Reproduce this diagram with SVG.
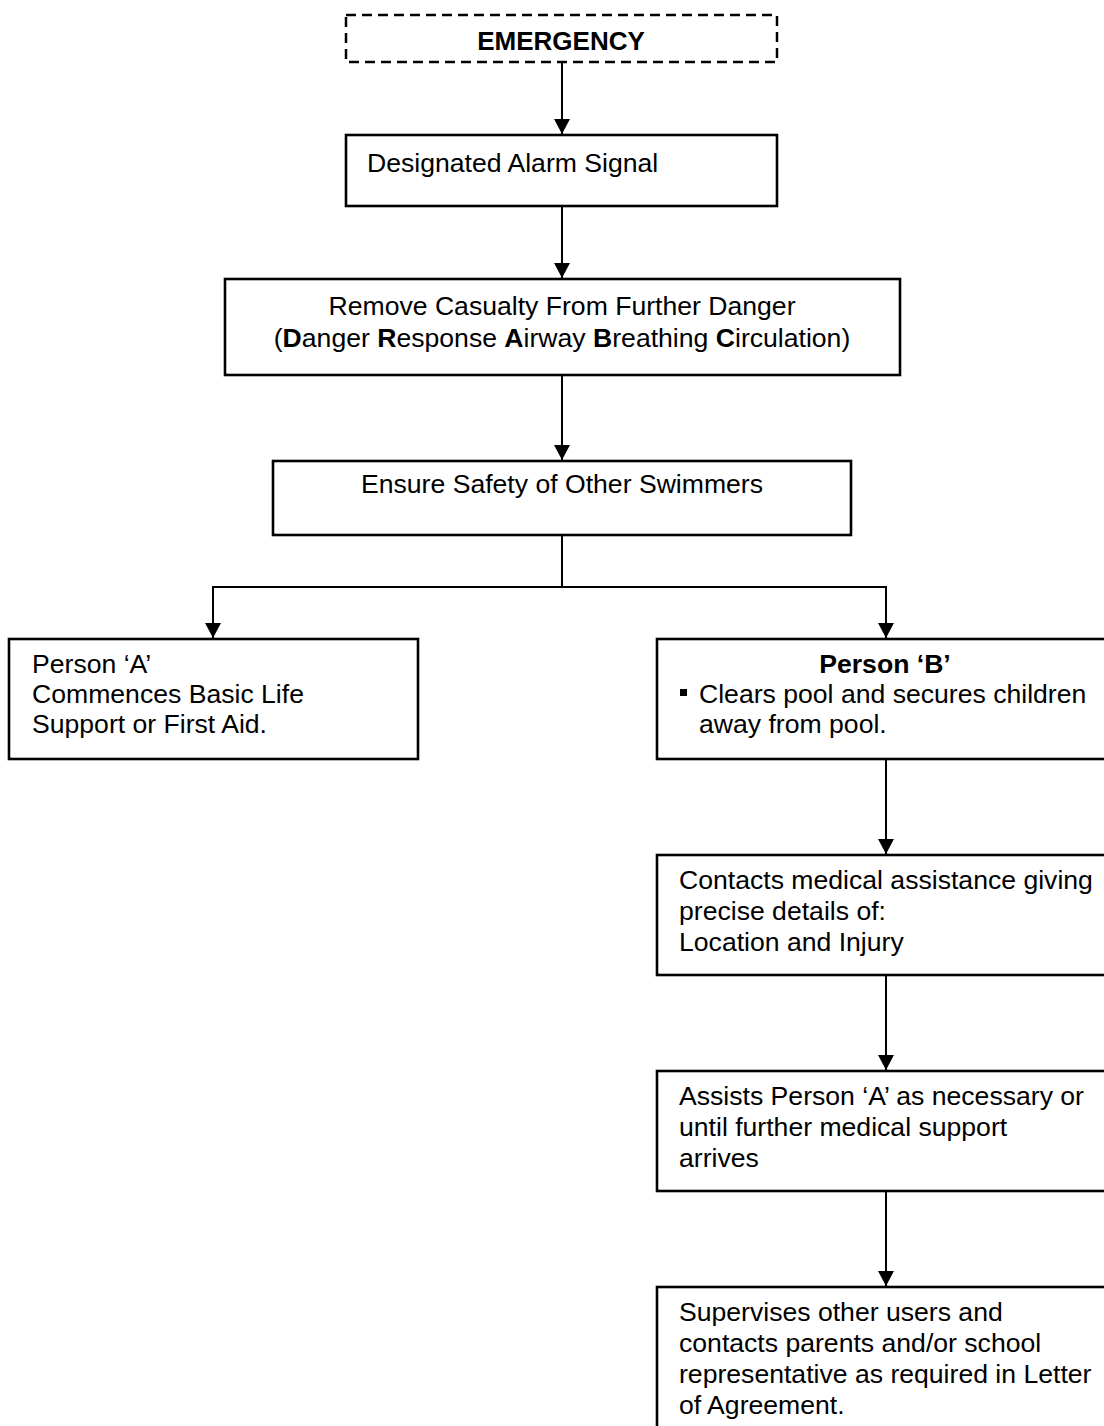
<svg xmlns="http://www.w3.org/2000/svg" width="1104" height="1426" viewBox="0 0 1104 1426">
<style>
.box{fill:#fff;stroke:#000;stroke-width:2.6}
.dash{fill:#fff;stroke:#000;stroke-width:2.5;stroke-dasharray:10 6}
.t{font-family:"Liberation Sans",Arial,sans-serif;font-size:26.6px;fill:#000}
.b{font-weight:bold}
.c{text-anchor:middle}
.ln{fill:none;stroke:#000;stroke-width:2}
</style>
<defs>
<marker id="ah" viewBox="0 0 15 16" refX="15" refY="8" markerWidth="15" markerHeight="16" markerUnits="userSpaceOnUse" orient="auto">
<path d="M0,0 L15,8 L0,16 z" fill="#000"/>
</marker>
</defs>
<rect width="1104" height="1426" fill="#fff"/>
<g id="connectors">
<line class="ln" x1="562" y1="62" x2="562" y2="134" marker-end="url(#ah)"/>
<line class="ln" x1="562" y1="206" x2="562" y2="278" marker-end="url(#ah)"/>
<line class="ln" x1="562" y1="375" x2="562" y2="460" marker-end="url(#ah)"/>
<polyline class="ln" points="562,535 562,587 213,587 213,638" marker-end="url(#ah)"/>
<polyline class="ln" points="562,587 886,587 886,638" marker-end="url(#ah)"/>
<line class="ln" x1="886" y1="759" x2="886" y2="854" marker-end="url(#ah)"/>
<line class="ln" x1="886" y1="975" x2="886" y2="1070" marker-end="url(#ah)"/>
<line class="ln" x1="886" y1="1191" x2="886" y2="1286" marker-end="url(#ah)"/>
</g>
<g id="emergency">
<rect class="dash" x="346" y="15" width="431" height="47"/>
<text class="t b c" x="561" y="50" style="font-size:26px">EMERGENCY</text>
</g>
<g id="alarm">
<rect class="box" x="346" y="135" width="431" height="71"/>
<text class="t" x="367" y="172">Designated Alarm Signal</text>
</g>
<g id="remove">
<rect class="box" x="225" y="279" width="675" height="96"/>
<text class="t c" x="562" y="315">Remove Casualty From Further Danger</text>
<text class="t c" x="562" y="347">(<tspan class="b">D</tspan>anger <tspan class="b">R</tspan>esponse <tspan class="b">A</tspan>irway <tspan class="b">B</tspan>reathing <tspan class="b">C</tspan>irculation)</text>
</g>
<g id="ensure">
<rect class="box" x="273" y="461" width="578" height="74"/>
<text class="t c" x="562" y="493">Ensure Safety of Other Swimmers</text>
</g>
<g id="personA">
<rect class="box" x="9" y="639" width="409" height="120"/>
<text class="t" x="32" y="673">Person ‘A’</text>
<text class="t" x="32" y="703">Commences Basic Life</text>
<text class="t" x="32" y="733">Support or First Aid.</text>
</g>
<g id="personB">
<rect class="box" x="657" y="639" width="460" height="120"/>
<text class="t b c" x="885" y="673">Person ‘B’</text>
<rect x="680" y="689" width="7" height="7" fill="#000"/>
<text class="t" x="699" y="703">Clears pool and secures children</text>
<text class="t" x="699" y="733">away from pool.</text>
</g>
<g id="contacts">
<rect class="box" x="657" y="855" width="460" height="120"/>
<text class="t" x="679" y="889">Contacts medical assistance giving</text>
<text class="t" x="679" y="920">precise details of:</text>
<text class="t" x="679" y="951">Location and Injury</text>
</g>
<g id="assists">
<rect class="box" x="657" y="1071" width="460" height="120"/>
<text class="t" x="679" y="1105">Assists Person ‘A’ as necessary or</text>
<text class="t" x="679" y="1136">until further medical support</text>
<text class="t" x="679" y="1167">arrives</text>
</g>
<g id="supervises">
<rect class="box" x="657" y="1287" width="460" height="160"/>
<text class="t" x="679" y="1321">Supervises other users and</text>
<text class="t" x="679" y="1352">contacts parents and/or school</text>
<text class="t" x="679" y="1383">representative as required in Letter</text>
<text class="t" x="679" y="1414">of Agreement.</text>
</g>
</svg>
